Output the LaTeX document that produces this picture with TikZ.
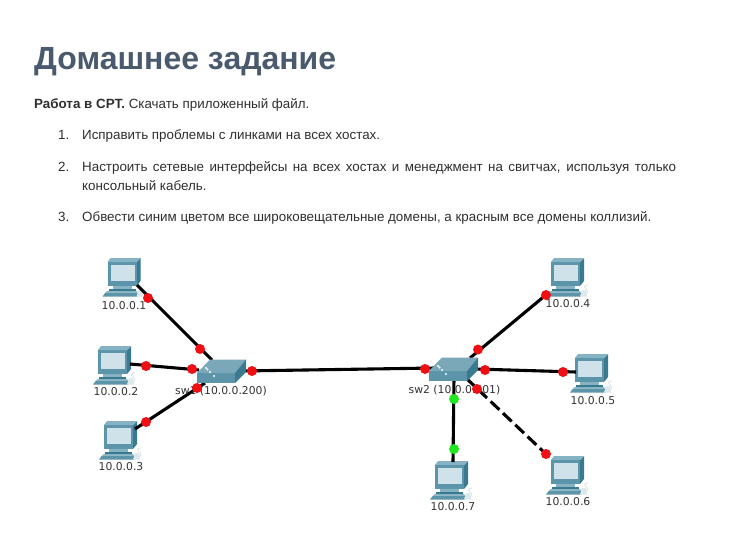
\documentclass[tikz,border=0pt]{standalone}
\usepackage{fontspec}
\setmainfont{Liberation Sans}
\newfontfamily\labelfont{DejaVu Sans}
\definecolor{titlecol}{HTML}{4A5A6E}
\definecolor{bodycol}{HTML}{2F2F2F}
\definecolor{labcol}{HTML}{333333}
\definecolor{tealdark}{HTML}{3A7A90}
\definecolor{tealmid}{HTML}{5C95A9}
\definecolor{teallight}{HTML}{86B3C3}
\definecolor{swtop}{HTML}{7AA8B8}
\definecolor{screencol}{HTML}{CFE2EA}
\definecolor{mousecol}{HTML}{DCE8EC}
\definecolor{redport}{HTML}{F00F12}
\definecolor{greenport}{HTML}{1FE81F}
\tikzset{
  x=1pt,y=-1pt,
  titletext/.style={anchor=base west,inner sep=0,font=\fontsize{32}{38}\selectfont\bfseries,text=titlecol},
  bodytext/.style={anchor=base west,inner sep=0,font=\fontsize{13.37}{19}\selectfont,text=bodycol},
  justtext/.style={anchor=north west,inner sep=0,text width=594pt,align=justify,font=\fontsize{13.37}{19}\selectfont,text=bodycol},
  hostlabel/.style={inner sep=0,font=\labelfont\fontsize{10.8}{12}\selectfont,text=labcol},
  link/.style={draw=black,line width=3.1pt},
  dashlink/.style={link,dash pattern=on 12pt off 5pt},
  portdot/.style={circle,inner sep=0,minimum size=10pt,fill=#1},
  pcicon/.pic={
    \fill[tealdark] (29,3) -- (33,-1) -- (33,22) -- (29,27) -- cycle;
    \fill[teallight] (3,-1) -- (33,-1) -- (29,3) -- (0,3) -- cycle;
    \fill[tealmid] (0,3) rectangle (29,27);
    \fill[screencol] (3,6) rectangle (27,22);
    \fill[teallight] (5,27) rectangle (24,30);
    \fill[tealdark] (1,30) rectangle (28,32);
    \fill[teallight] (0,32) -- (29,32) -- (30,33.5) -- (-2,33.5) -- cycle;
    \fill[tealmid] (-5,37.5) -- (-2,33.5) -- (30,33.5) -- (30,37.5) -- cycle;
    \draw[mousecol,line width=1pt] (31,36) .. controls (38,36) and (38,31) .. (35,30) .. controls (33,28) and (33,26) .. (37,26);
    \fill[mousecol] (31,31) -- (35,31) -- (36,37.5) -- (29,37.5) -- cycle;
  },
  swicon/.pic={
    \fill[tealmid] (0,14) rectangle (38,24);
    \fill[swtop] (0,14) -- (13,0.5) -- (49,0.5) -- (38,14) -- cycle;
    \fill[tealdark] (38,14) -- (49,0.5) -- (49,13) -- (38,24) -- cycle;
    \foreach \px/\py in {13,10.5,28,9,17,5,33,3.5}{\fill[white] (\px,\py) circle (1.1);}
  }
}
\begin{document}
\begin{tikzpicture}
\useasboundingbox[fill=white] (0,0) rectangle (729,550);

\node[titletext] (title) at (34,69) {Домашнее задание};
\node[bodytext] (intro) at (34,108) {\textbf{Работа в CPT.} Скачать приложенный файл.};
\node[bodytext] (num1) at (58,139) {1.};
\node[bodytext] (item1) at (82,139) {Исправить проблемы с линками на всех хостах.};
\node[bodytext] (num2) at (58,171) {2.};
\node[justtext] (item2) at (82,161.2) {Настроить сетевые интерфейсы на всех хостах и менеджмент на свитчах, используя только\linebreak консольный кабель.};
\node[bodytext] (num3) at (58,221) {3.};
\node[bodytext] (item3) at (82,221) {Обвести синим цветом все широковещательные домены, а красным все домены коллизий.};

\pic at (107.5,259) {pcicon};
\pic at (98,347) {pcicon};
\pic at (104,422) {pcicon};
\pic at (551,259) {pcicon};
\pic at (575,355) {pcicon};
\pic at (551,457) {pcicon};
\pic at (435,462) {pcicon};

% link end points
\coordinate (pc1) at (137,285);
\coordinate (pc2) at (130,364);
\coordinate (pc3) at (135,429);
\coordinate (pc4) at (547,294);
\coordinate (pc5) at (576,372);
\coordinate (pc6) at (547,455);
\coordinate (pc7) at (453,462);
\coordinate (swa) at (212,360);
\coordinate (swb) at (199,370);
\coordinate (swc) at (205,383);
\coordinate (swd) at (240,371);
\coordinate (swe) at (435,368);
\coordinate (swf) at (470,358);
\coordinate (swg) at (476,369);
\coordinate (swh) at (466,378);
\coordinate (swi) at (454,378);

\draw[link] (pc1) -- (swa);
\draw[link] (pc2) -- (swb);
\draw[link] (pc3) -- (swc);
\draw[link] (swd) -- (swe);
\draw[link] (pc4) -- (swf);
\draw[link] (pc5) -- (swg);
\draw[dashlink] (swh) -- (pc6);
\draw[link] (pc7) -- (swi);

\pic at (197,359) {swicon};
\pic at (429,357) {swicon};

\node[hostlabel] (l1) at (124,306) {10.0.0.1};
\node[hostlabel] (l2) at (116,392) {10.0.0.2};
\node[hostlabel] (l3) at (121,467) {10.0.0.3};
\node[hostlabel] (l4) at (568,304) {10.0.0.4};
\node[hostlabel] (l5) at (593,401) {10.0.0.5};
\node[hostlabel] (l6) at (568,502) {10.0.0.6};
\node[hostlabel] (l7) at (453,507) {10.0.0.7};
\node[hostlabel] (s1) at (221,391) {sw1 (10.0.0.200)};
\node[hostlabel] (s2) at (454.5,390) {sw2 (10.0.0.201)};

\node[portdot=redport] (d1) at (148,298) {};
\node[portdot=redport] (d2) at (200,349) {};
\node[portdot=redport] (d3) at (146,366) {};
\node[portdot=redport] (d4) at (192,369) {};
\node[portdot=redport] (d5) at (197,388) {};
\node[portdot=redport] (d6) at (146,422) {};
\node[portdot=redport] (d7) at (252,371) {};
\node[portdot=redport] (d8) at (425,369) {};
\node[portdot=redport] (d9) at (478,349.5) {};
\node[portdot=redport] (d10) at (546,295) {};
\node[portdot=redport] (d11) at (485,370) {};
\node[portdot=redport] (d12) at (563,372) {};
\node[portdot=redport] (d13) at (477,389) {};
\node[portdot=redport] (d14) at (546,454) {};
\node[portdot=greenport] (d15) at (454,399) {};
\node[portdot=greenport] (d16) at (454,449) {};
\end{tikzpicture}
\end{document}
